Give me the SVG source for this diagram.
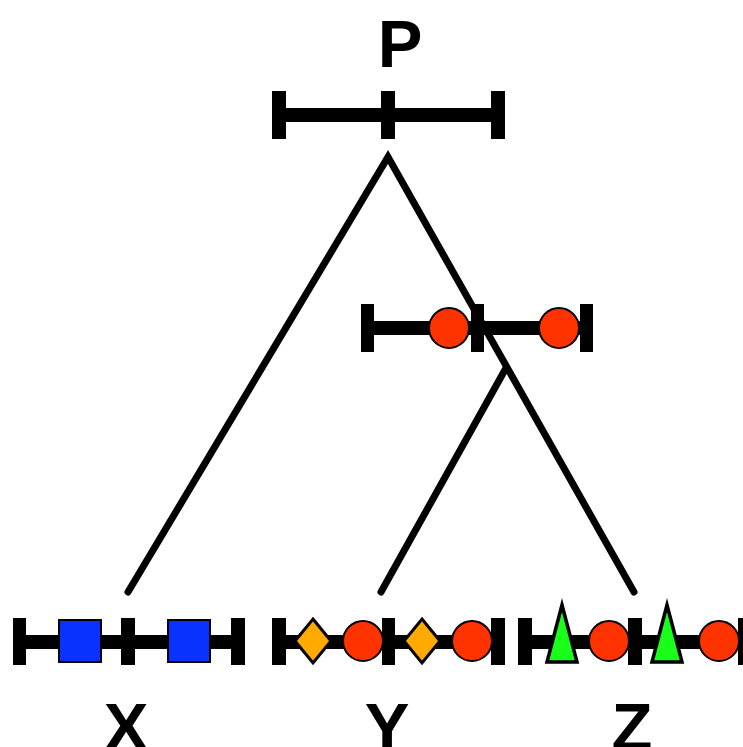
<svg xmlns="http://www.w3.org/2000/svg" width="743" height="747" viewBox="0 0 743 747">
<style>
.bar{stroke:#000;stroke-width:14;fill:none}
.tick{fill:#000}
.circ{fill:#ff3300;stroke:#000;stroke-width:2}
.sq{fill:#0a32ff;stroke:#000;stroke-width:2}
.dia{fill:#ffaa00;stroke:#000;stroke-width:3;stroke-linejoin:miter}
.tri{fill:#1aff1a;stroke:#000;stroke-width:3.5;stroke-linejoin:miter}
.edge{stroke:#000;stroke-width:7;fill:none;stroke-linecap:round;stroke-linejoin:miter;stroke-miterlimit:10}
.lbl{font-family:"Liberation Sans",Arial,sans-serif;font-weight:bold;font-size:67px;fill:#000;text-anchor:middle}
</style>
<rect width="743" height="747" fill="#fff"/>
<g id="connectors">
<polyline class="edge" points="128,592 388,157 634,592"/>
<line class="edge" x1="506" y1="368" x2="381" y2="592"/>
</g>
<g id="node-P">
<text class="lbl" x="400" y="67">P</text>
<line class="bar" x1="279" y1="115" x2="498" y2="115"/>
<rect class="tick" x="272" y="91" width="14" height="48"/>
<rect class="tick" x="381" y="91" width="14" height="48"/>
<rect class="tick" x="491" y="91" width="14" height="48"/>
</g>
<g id="node-ancestor">
<line class="bar" x1="368" y1="328" x2="586" y2="328"/>
<rect class="tick" x="361" y="304" width="13" height="48"/>
<rect class="tick" x="471" y="304" width="13" height="48"/>
<rect class="tick" x="580" y="304" width="13" height="48"/>
<circle class="circ" cx="449" cy="328" r="20"/>
<circle class="circ" cx="559" cy="328" r="20"/>
</g>
<g id="node-X">
<line class="bar" x1="19" y1="642" x2="238" y2="642"/>
<rect class="tick" x="13" y="618" width="13" height="47"/>
<rect class="tick" x="121" y="618" width="14" height="47"/>
<rect class="tick" x="231" y="618" width="14" height="47"/>
<rect class="sq" x="59" y="620" width="42" height="42"/>
<rect class="sq" x="168" y="620" width="42" height="42"/>
<text class="lbl" x="126" y="750">X</text>
</g>
<g id="node-Y">
<line class="bar" x1="279" y1="642" x2="498" y2="642"/>
<rect class="tick" x="272" y="618" width="14" height="47"/>
<rect class="tick" x="382" y="618" width="13" height="47"/>
<rect class="tick" x="491" y="618" width="14" height="47"/>
<polygon class="dia" points="313,619 331,641 313,663 295,641"/>
<circle class="circ" cx="363" cy="641" r="20"/>
<polygon class="dia" points="422,619 440,641 422,663 404,641"/>
<circle class="circ" cx="472" cy="641" r="20"/>
<text class="lbl" x="387" y="750">Y</text>
</g>
<g id="node-Z">
<line class="bar" x1="525" y1="642" x2="743" y2="642"/>
<rect class="tick" x="518" y="618" width="14" height="47"/>
<rect class="tick" x="628" y="618" width="14" height="47"/>
<rect class="tick" x="738" y="618" width="14" height="47"/>
<polygon class="tri" points="562,605 577,662 547,662"/>
<circle class="circ" cx="609" cy="641" r="20"/>
<polygon class="tri" points="667,605 682,662 652,662"/>
<circle class="circ" cx="719" cy="641" r="20"/>
<text class="lbl" x="632" y="750">Z</text>
</g>
</svg>
